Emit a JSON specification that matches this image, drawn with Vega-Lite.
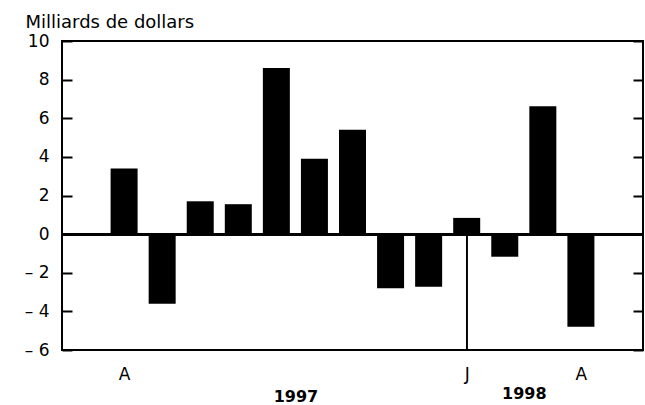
{
  "$schema": "https://vega.github.io/schema/vega-lite/v6.json",
  "width": 581,
  "height": 309,
  "autosize": {"type": "none"},
  "padding": {"left": 62, "top": 41, "right": 2, "bottom": 55},
  "background": "white",
  "config": {
    "view": {"stroke": "black", "strokeWidth": 2},
    "font": "DejaVu Sans",
    "axis": {"grid": false, "labelColor": "black", "titleColor": "black"}
  },
  "data": {
    "values": [
      {"month": "A", "idx": 1, "value": 3.4},
      {"month": "M", "idx": 2, "value": -3.6},
      {"month": "J", "idx": 3, "value": 1.7},
      {"month": "J", "idx": 4, "value": 1.55},
      {"month": "A", "idx": 5, "value": 8.6},
      {"month": "S", "idx": 6, "value": 3.9},
      {"month": "O", "idx": 7, "value": 5.4},
      {"month": "N", "idx": 8, "value": -2.8},
      {"month": "D", "idx": 9, "value": -2.72},
      {"month": "J", "idx": 10, "value": 0.84},
      {"month": "F", "idx": 11, "value": -1.17},
      {"month": "M", "idx": 12, "value": 6.62},
      {"month": "A", "idx": 13, "value": -4.8}
    ]
  },
  "layer": [
    {
      "mark": {"type": "bar", "color": "black", "size": 27},
      "encoding": {
        "x": {
          "field": "idx",
          "type": "quantitative",
          "scale": {"domain": [-0.5, 14.5], "nice": false, "zero": false},
          "axis": {
            "orient": "bottom",
            "title": null,
            "values": [1, 5.5, 10, 11.5, 13],
            "labelExpr": "datum.value == 1 ? 'A' : datum.value == 10 ? 'J' : datum.value == 13 ? 'A' : datum.value == 5.5 ? '1997' : '1998'",
            "ticks": false,
            "domain": false,
            "labelOverlap": false,
            "labelFlush": false,
            "labelFontSize": {"condition": {"test": "datum.value == 5.5 || datum.value == 11.5", "value": 16}, "value": 17},
            "labelFontWeight": {"condition": {"test": "datum.value == 5.5 || datum.value == 11.5", "value": "bold"}, "value": "normal"},
            "labelPadding": {"condition": [{"test": "datum.value == 5.5", "value": 38}, {"test": "datum.value == 11.5", "value": 35}], "value": 16}
          }
        },
        "y": {
          "field": "value",
          "type": "quantitative",
          "scale": {"domain": [-6, 10], "nice": false},
          "axis": {
            "orient": "left",
            "values": [-6, -4, -2, 0, 2, 4, 6, 8, 10],
            "labelExpr": "datum.value < 0 ? '\u2013 ' + (-datum.value) : '' + datum.value",
            "domain": false,
            "tickSize": -10,
            "tickWidth": 2,
            "tickColor": "black",
            "labelFontSize": 17,
            "labelPadding": 23,
            "title": "Milliards de dollars",
            "titleAngle": 0,
            "titleAlign": "left",
            "titleBaseline": "alphabetic",
            "titleX": -37,
            "titleY": -14,
            "titleFontSize": 18,
            "titleFontWeight": "normal"
          }
        }
      }
    },
    {
      "mark": {"type": "rule", "color": "black", "strokeWidth": 2},
      "encoding": {"y": {"datum": 0, "axis": null}}
    },
    {
      "mark": {"type": "rule", "color": "black", "strokeWidth": 1},
      "encoding": {"x": {"datum": 10}, "y": {"datum": 0, "axis": null}, "y2": {"datum": -6}}
    },
    {
      "mark": {"type": "point", "opacity": 0},
      "encoding": {
        "x": {"field": "idx", "type": "quantitative"},
        "y": {
          "field": "value",
          "type": "quantitative",
          "axis": {
            "orient": "right",
            "values": [-6, -4, -2, 0, 2, 4, 6, 8, 10],
            "labels": false,
            "domain": false,
            "tickSize": -10,
            "tickWidth": 2,
            "tickColor": "black",
            "title": null
          }
        }
      }
    }
  ],
  "resolve": {"axis": {"y": "independent"}}
}
